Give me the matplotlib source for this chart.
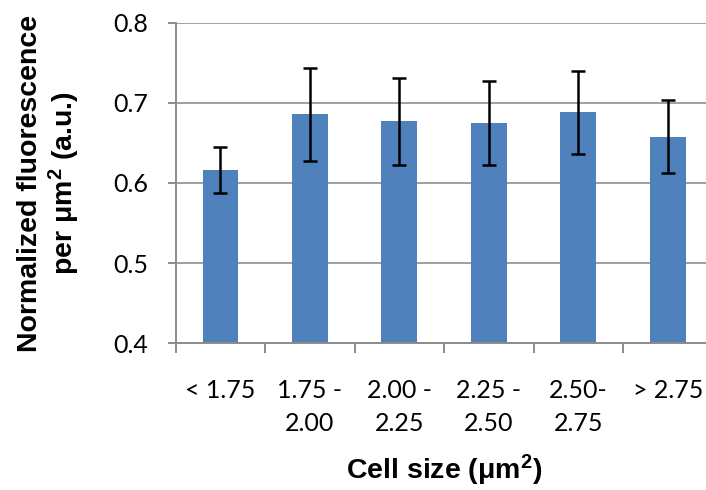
import matplotlib
matplotlib.use("Agg")
import matplotlib.pyplot as plt
import numpy as np

categories = ["< 1.75", "1.75 -\n2.00", "2.00 -\n2.25", "2.25 -\n2.50", "2.50-\n2.75", "> 2.75"]
values = [0.616, 0.686, 0.677, 0.675, 0.688, 0.658]
errors = [0.029, 0.058, 0.054, 0.052, 0.052, 0.045]
yticks = [0.4, 0.5, 0.6, 0.7, 0.8]

plt.rcParams['mathtext.fontset'] = 'custom'
plt.rcParams['mathtext.rm'] = 'Liberation Sans'
plt.rcParams['mathtext.bf'] = 'Liberation Sans:bold'

fig = plt.figure(figsize=(7.06, 4.90), dpi=100)
ax = fig.add_axes([0.2489, 0.2994, 0.7603, 0.6543])

x = np.arange(len(categories))
ax.bar(x, values, width=0.40, color='#4F81BD', zorder=2)
ax.errorbar(x, values, yerr=errors, fmt='none', ecolor='black', elinewidth=1.8,
            capsize=5, capthick=1.8, zorder=3)

ax.set_xlim(-0.5, len(categories) - 0.5)
ax.set_ylim(0.4, 0.8)
ax.set_yticks(yticks)
ax.set_yticklabels([f"{v:.1f}" for v in yticks], fontsize=18, family='Lato')
ax.yaxis.grid(True, color='#A0A0A0', linewidth=1.4, zorder=0)
ax.set_axisbelow(True)

ax.set_xticks(x)
ax.set_xticklabels(categories, fontsize=18, family='Lato', linespacing=1.5)
ax.set_xticks(np.arange(-0.5, len(categories)), minor=True)
ax.tick_params(axis='x', which='major', length=0, pad=26)
ax.tick_params(axis='x', which='minor', length=7, width=1.4, color='#8C8C8C', direction='out')
ax.tick_params(axis='y', which='major', length=6, width=1.4, color='#8C8C8C', pad=14)

for s in ['top', 'right']:
    ax.spines[s].set_visible(False)
for s in ['left', 'bottom']:
    ax.spines[s].set_color('#8C8C8C')
    ax.spines[s].set_linewidth(1.4)

ax.set_xlabel('Cell size (μm$\\mathbf{^2}$)', fontsize=20.5, fontweight='bold',
              family='Liberation Sans', labelpad=13)
ax.set_ylabel('Normalized fluorescence\nper μm$\\mathbf{^2}$ (a.u.)', fontsize=20.5,
              fontweight='bold', family='Liberation Sans', labelpad=22, linespacing=1.15)

fig.savefig('out.png', dpi=100)
